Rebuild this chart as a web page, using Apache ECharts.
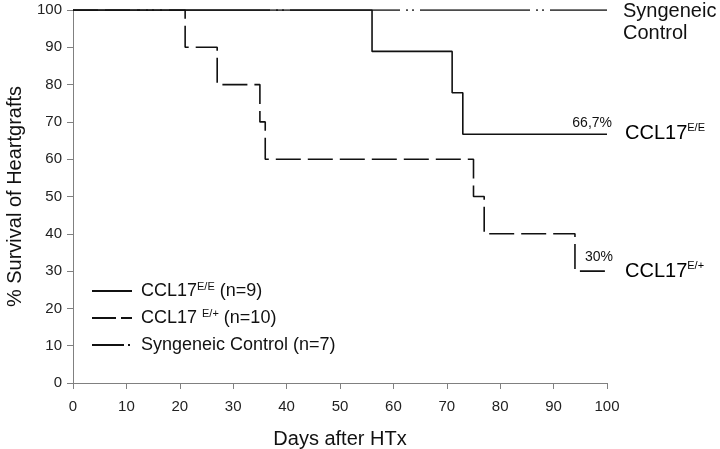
<!DOCTYPE html>
<html><head><meta charset="utf-8">
<script src="https://cdn.jsdelivr.net/npm/echarts@6/dist/echarts.min.js"></script>
<style>html,body{margin:0;padding:0;background:#fff}#c{width:720px;height:449px}</style>
</head><body><div id="c"></div>
<script>
// Kaplan-Meier step data (day, % survival)
const daysEE = [0, 56, 71, 73, 100];
const survEE = [100, 88.9, 77.8, 66.7, 66.7];
const daysEP = [0, 21, 27, 35, 36, 75, 77, 94, 100];
const survEP = [100, 90, 80, 70, 60, 50, 40, 30, 30];
const daysSyn = [0, 100];
const survSyn = [100, 100];
const seriesNames = ['CCL17 E/E (n=9)', 'CCL17 E/+ (n=10)', 'Syngeneic Control (n=7)'];
const legendRich = ['{b|CCL17}{s|E/E}{b| (n=9)}', '{b|CCL17 }{s|E/+}{b| (n=10)}', '{b|Syngeneic Control (n=7)}'];
const endLabelEE = '66,7%';
const endLabelEP = '30%';
const xMin = 0, xMax = 100, xStep = 10;
const yMin = 0, yMax = 100, yStep = 10;

const zip = (a, b) => a.map((v, i) => [v, b[i]]);
const FONT = '"Liberation Sans", Arial, sans-serif';
const chart = echarts.init(document.getElementById('c'), null, {renderer: 'canvas'});

const synDash = [110, 6, 2, 4, 2, 6];
const epDash = [25, 7];

const option = {
  animation: false,
  backgroundColor: '#fff',
  textStyle: {fontFamily: FONT},
  grid: {left: 73, right: 113, top: 10, bottom: 66, containLabel: false, outerBoundsMode: 'none'},
  xAxis: {
    type: 'value', min: xMin, max: xMax, interval: xStep,
    name: 'Days after HTx', nameLocation: 'middle', nameGap: 46,
    nameTextStyle: {fontSize: 20, color: '#111', fontFamily: FONT},
    axisLine: {show: true, lineStyle: {color: '#808080', width: 1}},
    axisTick: {show: true, inside: false, length: 6, lineStyle: {color: '#808080'}},
    axisLabel: {fontSize: 15, color: '#222', margin: 16, fontFamily: FONT},
    splitLine: {show: false}
  },
  yAxis: {
    type: 'value', min: yMin, max: yMax, interval: yStep,
    name: '% Survival of Heartgrafts', nameLocation: 'middle', nameGap: 48,
    nameTextStyle: {fontSize: 20, color: '#111', fontFamily: FONT},
    axisLine: {show: true, lineStyle: {color: '#808080', width: 1}},
    axisTick: {show: true, inside: false, length: 6, lineStyle: {color: '#808080'}},
    axisLabel: {fontSize: 15, color: '#222', margin: 11, fontFamily: FONT},
    splitLine: {show: false}
  },
  legend: {
    orient: 'vertical', left: 91, top: 281, padding: 0,
    itemWidth: 40, itemHeight: 14, itemGap: 7,
    itemStyle: {opacity: 0},
    data: [
      {name: seriesNames[0]},
      {name: seriesNames[1], lineStyle: {type: [24, 5]}},
      {name: seriesNames[2], lineStyle: {type: [32, 4, 2, 8], dashOffset: 0}}
    ],
    formatter: n => legendRich[seriesNames.indexOf(n)],
    textStyle: {
      fontSize: 18, color: '#111', fontFamily: FONT, lineHeight: 20, padding: [0, 0, 0, 4],
      rich: {
        b: {fontSize: 18, color: '#111', fontFamily: FONT, lineHeight: 20},
        s: {fontSize: 11, color: '#111', fontFamily: FONT, lineHeight: 10, verticalAlign: 'top'}
      }
    }
  },
  series: [
    {
      name: seriesNames[1], type: 'line', step: 'end', showSymbol: false, symbol: 'none',
      data: zip(daysEP, survEP),
      lineStyle: {color: '#111', width: 1.6, type: epDash, cap: 'butt'},
      itemStyle: {color: '#111'}, z: 2
    },
    {
      name: seriesNames[0], type: 'line', step: 'end', showSymbol: false, symbol: 'none',
      data: zip(daysEE, survEE),
      lineStyle: {color: '#111', width: 1.6, type: 'solid'},
      itemStyle: {color: '#111'}, z: 3
    },
    {
      name: seriesNames[2], type: 'line', showSymbol: false, symbol: 'none',
      data: zip(daysSyn, survSyn),
      lineStyle: {color: '#111', width: 1.6, type: synDash, dashOffset: 43, cap: 'butt'},
      itemStyle: {color: '#111'}, z: 4
    }
  ]
};
chart.setOption(option);

// Annotations anchored to data coordinates
const pEE = chart.convertToPixel({gridIndex: 0}, [daysEE[daysEE.length - 1], survEE[survEE.length - 1]]);
const pEP = chart.convertToPixel({gridIndex: 0}, [daysEP[daysEP.length - 1], survEP[survEP.length - 1]]);
const pSyn = chart.convertToPixel({gridIndex: 0}, [daysSyn[daysSyn.length - 1], survSyn[survSyn.length - 1]]);
const rich = {
  b: {fontSize: 20, color: '#111', fontFamily: FONT, lineHeight: 22},
  s: {fontSize: 11, color: '#111', fontFamily: FONT, lineHeight: 11, verticalAlign: 'top'}
};
chart.setOption({
  graphic: [
    {type: 'text', left: pSyn[0] + 16, top: pSyn[1] - 10, silent: true,
     style: {text: 'Syngeneic\nControl', font: '20px ' + FONT, fill: '#111', lineHeight: 22}},
    {type: 'text', x: pEE[0] + 18, y: pEE[1] - 1, silent: true,
     style: {text: '{b|CCL17}{s|E/E}', rich: rich, verticalAlign: 'middle', align: 'left'}},
    {type: 'text', x: pEP[0] + 18, y: pEP[1], silent: true,
     style: {text: '{b|CCL17}{s|E/+}', rich: rich, verticalAlign: 'middle', align: 'left'}},
    {type: 'text', x: pEE[0] + 5, y: pEE[1] - 11, silent: true,
     style: {text: endLabelEE, font: '14px ' + FONT, fill: '#111', align: 'right', verticalAlign: 'middle'}},
    {type: 'text', x: pEP[0] + 6, y: pEP[1] - 14, silent: true,
     style: {text: endLabelEP, font: '14px ' + FONT, fill: '#111', align: 'right', verticalAlign: 'middle'}}
  ]
});
</script>
</body></html>
